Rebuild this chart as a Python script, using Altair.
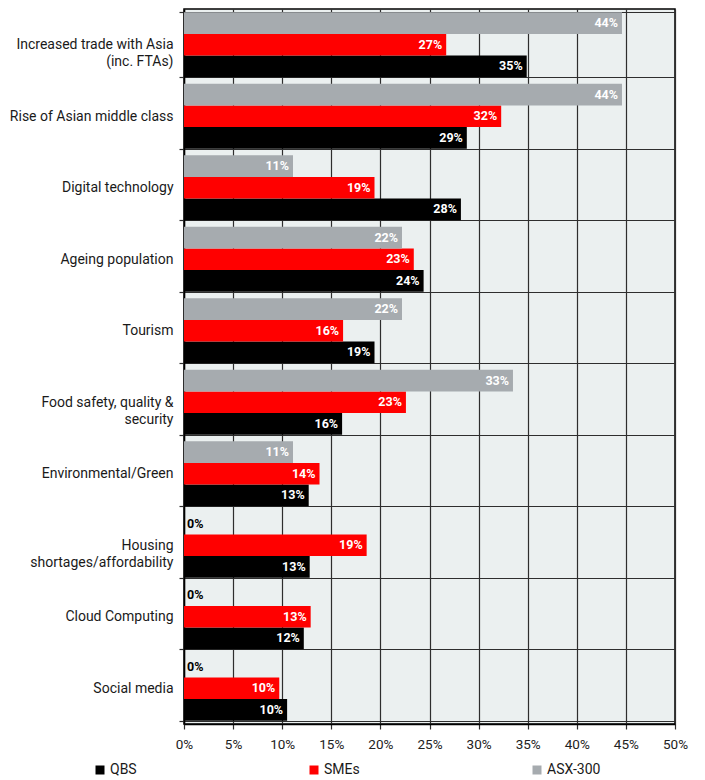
import altair as alt
import pandas as pd

# Categories (display text uses '|' as a line break; NBSPs centre the short line)
NB = "\u00a0"
categories = [
    "Increased trade with Asia|" + NB * 14 + "(inc. FTAs)" + NB * 14,
    "Rise of Asian middle class",
    "Digital technology",
    "Ageing population",
    "Tourism",
    "Food safety, quality &|" + NB * 13 + "security" + NB * 13,
    "Environmental/Green",
    NB * 14 + "Housing" + NB * 14 + "|shortages/affordability",
    "Cloud Computing",
    "Social media",
]

series = ["QBS", "SMEs", "ASX-300"]
colors = ["#000000", "#FF0000", "#A6ABAF"]

# Bar lengths (%)
qbs_values = [34.9, 28.8, 28.2, 24.4, 19.4, 16.1, 12.7, 12.8, 12.2, 10.5]
sme_values = [26.7, 32.3, 19.4, 23.4, 16.2, 22.6, 13.8, 18.6, 12.9, 9.7]
asx_values = [44.6, 44.6, 11.1, 22.2, 22.2, 33.5, 11.1, 0.0, 0.0, 0.0]

# Printed labels (%)
qbs_labels = [35, 29, 28, 24, 19, 16, 13, 13, 12, 10]
sme_labels = [27, 32, 19, 23, 16, 23, 14, 19, 13, 10]
asx_labels = [44, 44, 11, 22, 22, 33, 11, 0, 0, 0]

x_ticks = [0, 5, 10, 15, 20, 25, 30, 35, 40, 45, 50]

rows = []
for s, vals, labs in [("QBS", qbs_values, qbs_labels),
                      ("SMEs", sme_values, sme_labels),
                      ("ASX-300", asx_values, asx_labels)]:
    for c, v, l in zip(categories, vals, labs):
        rows.append({"category": c, "series": s, "value": v, "shown": l,
                     "text": f"{l}%"})
df = pd.DataFrame(rows)

offset_order = ["ASX-300", "SMEs", "QBS"]

y_enc = alt.Y(
    "category:N",
    sort=categories,
    scale=alt.Scale(paddingInner=0.09, paddingOuter=0.045),
    axis=alt.Axis(
        title=None,
        tickBand="extent",
        grid=True,
        gridColor="#2e2e2e",
        gridWidth=1.2,
        gridOpacity=1,
        ticks=True,
        tickSize=5,
        tickColor="#2e2e2e",
        tickWidth=1.2,
        domain=True,
        domainColor="#000000",
        domainWidth=1.5,
        labelAlign="right",
        labelPadding=6,
        labelFontSize=14,
        labelColor="#1a1a1a",
        labelExpr="split(datum.label, '|')",
        labelLineHeight=17,
        labelLimit=300,
    ),
)
yoff = alt.YOffset("series:N", sort=offset_order,
                   scale=alt.Scale(paddingInner=0, paddingOuter=0))

x_enc = alt.X(
    "value:Q",
    scale=alt.Scale(domain=[0, 50], nice=False),
    axis=alt.Axis(
        title=None,
        values=x_ticks,
        labelExpr="datum.value + '%'",
        labelFlush=False,
        labelOverlap=False,
        grid=True,
        gridColor="#2e2e2e",
        gridWidth=1.2,
        gridOpacity=1,
        tickSize=5,
        tickColor="#2e2e2e",
        tickWidth=1.2,
        domainColor="#000000",
        domainWidth=1.5,
        labelFontSize=13.5,
        labelColor="#222222",
        labelPadding=8,
    ),
)

bars = alt.Chart(df).mark_bar(size=21.7).encode(
    y=y_enc,
    yOffset=yoff,
    x=x_enc,
    color=alt.Color(
        "series:N",
        scale=alt.Scale(domain=series, range=colors),
        legend=alt.Legend(
            title=None,
            orient="none",
            legendX=-91,
            legendY=754,
            direction="horizontal",
            columns=3,
            columnPadding=170,
            symbolType="square",
            symbolSize=81,
            symbolStrokeWidth=0,
            labelFontSize=14,
            labelColor="#1a1a1a",
            labelOffset=3,
            padding=0,
        ),
    ),
)

labels = alt.Chart(df).transform_filter("datum.shown > 0").mark_text(
    align="right", baseline="middle", dx=-4, fontWeight="bold",
    fontSize=12.5, color="white",
).encode(
    y=alt.Y("category:N", sort=categories),
    yOffset=alt.YOffset("series:N", sort=offset_order),
    x=alt.X("value:Q"),
    text="text:N",
)

zero_labels = alt.Chart(df).transform_filter("datum.shown == 0").mark_text(
    align="left", baseline="middle", dx=3, fontWeight="bold",
    fontSize=12.5, color="black",
).encode(
    y=alt.Y("category:N", sort=categories),
    yOffset=alt.YOffset("series:N", sort=offset_order),
    x=alt.X("value:Q"),
    text="text:N",
)

chart = alt.layer(bars, labels, zero_labels).properties(
    width=491,
    height=715,
    autosize=alt.AutoSizeParams(type="none"),
    padding={"left": 184, "top": 9, "right": 30, "bottom": 56},
).configure(
    font="Roboto",
).configure_view(
    fill="#EBF0F0",
    stroke="#000000",
    strokeWidth=1.5,
)

chart.save("out.html", embed_options={"renderer": "svg", "actions": False})
